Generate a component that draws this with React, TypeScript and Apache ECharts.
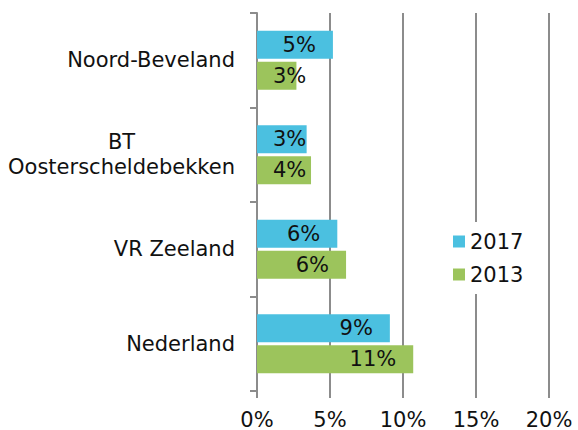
import React, { useEffect, useRef } from "react";
import * as echarts from "echarts";

const categories = ["Noord-Beveland", "BT\nOosterscheldebekken", "VR Zeeland", "Nederland"];
const series2017 = [5.2, 3.4, 5.5, 9.1];
const series2013 = [2.7, 3.7, 6.1, 10.7];
const seriesNames = ["2017", "2013"];
const xTicks = { min: 0, max: 20, interval: 5 };

const FONT = "DejaVu Sans";
const GRAY = "#8c8c8c";
const TEXT = "#111";

function buildData(vals: number[]) {
  return vals.map((v) => {
    const px = (v * 292) / 20;
    const small = px - 17 - 34 < 16;
    return {
      value: v,
      label: small
        ? { position: "insideLeft", distance: 16 }
        : { position: "insideRight", distance: 17 },
    };
  });
}

export default function App() {
  const ref = useRef<HTMLDivElement>(null);
  useEffect(() => {
    if (!ref.current) return;
    const chart = echarts.init(ref.current, undefined, { renderer: "svg" });
    const label = {
      show: true,
      color: TEXT,
      fontSize: 21,
      fontFamily: FONT,
      formatter: (p: any) => Math.round(p.value) + "%",
    };
    chart.setOption({
      animation: false,
      textStyle: { fontFamily: FONT },
      grid: { left: 257, right: 29, top: 13, bottom: 37, containLabel: false },
      legend: {
        orient: "vertical",
        left: 445,
        top: 222,
        padding: [9, 10, 9, 8],
        backgroundColor: "#fff",
        itemWidth: 12,
        itemHeight: 12,
        itemGap: 12,
        icon: "rect",
        data: seriesNames,
        textStyle: { fontSize: 21, color: TEXT, fontFamily: FONT, padding: [0, 0, 0, 0] },
      },
      xAxis: {
        type: "value",
        min: xTicks.min,
        max: xTicks.max,
        interval: xTicks.interval,
        axisLine: { show: false },
        axisTick: { show: true, length: 7, lineStyle: { color: GRAY, width: 2 } },
        splitLine: { show: true, lineStyle: { color: GRAY, width: 2 } },
        axisLabel: {
          formatter: "{value}%",
          fontSize: 21,
          color: TEXT,
          fontFamily: FONT,
          margin: 18,
        },
      },
      yAxis: {
        type: "category",
        inverse: true,
        data: categories,
        axisLine: { show: true, lineStyle: { color: GRAY, width: 2 } },
        axisTick: { show: true, length: 7, lineStyle: { color: GRAY, width: 2 } },
        axisLabel: {
          margin: 22,
          color: TEXT,
          fontSize: 21,
          fontFamily: FONT,
          lineHeight: 25,
          formatter: (v: string) =>
            v
              .split("\n")
              .map((l) => `{c|${l}}`)
              .join("\n"),
          rich: {
            c: { align: "center", fontSize: 21, fontFamily: FONT, color: TEXT, lineHeight: 25 },
          },
        },
      },
      series: [
        {
          name: seriesNames[0],
          type: "bar",
          barWidth: 28,
          barGap: "10%",
          itemStyle: { color: "#4bc0e0" },
          label,
          data: buildData(series2017),
        },
        {
          name: seriesNames[1],
          type: "bar",
          barWidth: 28,
          barGap: "10%",
          itemStyle: { color: "#9cc45c" },
          label,
          data: buildData(series2013),
        },
      ],
    });
    return () => chart.dispose();
  }, []);
  return <div ref={ref} style={{ width: 578, height: 430, position: "absolute", left: 0, top: 0 }} />;
}
